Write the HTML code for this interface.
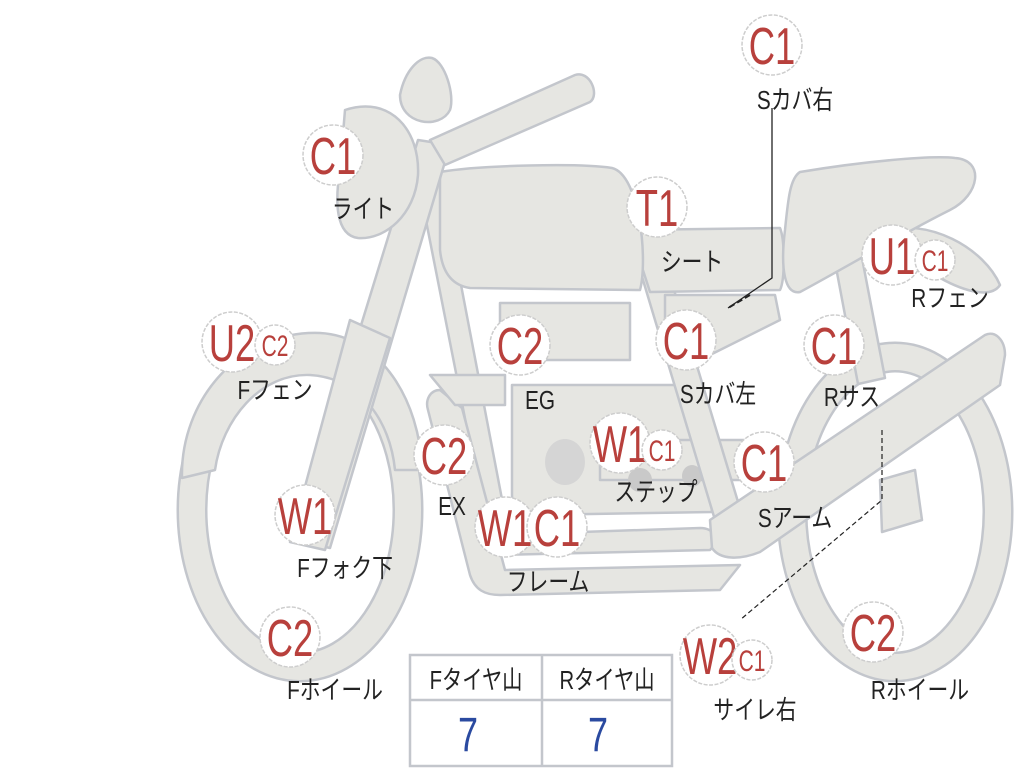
<!DOCTYPE html>
<html><head><meta charset="utf-8"><style>
html,body{margin:0;padding:0;background:#fff;width:1024px;height:768px;overflow:hidden}
svg{display:block}
.s{fill:#e6e6e2;stroke:#c3c6cc;stroke-width:2.5;stroke-linejoin:round}
.b{fill:#fff;stroke:#cdcdcd;stroke-width:1.5;stroke-dasharray:4 1.5}
.r{fill:#b8403c;font-family:"Liberation Sans",sans-serif}
.k{fill:#222;font-family:"Liberation Sans","Noto Sans CJK JP",sans-serif;font-size:26px}
</style></head><body>
<svg width="1024" height="768" viewBox="0 0 1024 768">
<ellipse cx="300" cy="510" rx="108" ry="157" fill="none" stroke="#c3c6cc" stroke-width="31"/>
<ellipse cx="300" cy="510" rx="108" ry="157" fill="none" stroke="#e6e6e2" stroke-width="26"/>
<ellipse cx="895" cy="512" rx="103" ry="155" fill="none" stroke="#c3c6cc" stroke-width="31"/>
<ellipse cx="895" cy="512" rx="103" ry="155" fill="none" stroke="#e6e6e2" stroke-width="26"/>
<path class="s" d="M182,478 C180,400 240,330 320,333 C380,336 420,400 422,470 L395,470 C390,420 360,378 310,375 C260,373 222,420 215,470 Z"/>
<path class="s" d="M835,262 L862,258 L885,378 L858,384 Z"/>
<path class="s" d="M875,232 C930,215 985,250 1000,285 C990,300 960,290 935,275 L880,250 Z"/>
<path class="s" d="M418,180 L440,175 L505,515 L485,520 Z"/>
<path class="s" d="M440,390 C430,390 425,400 428,410 L470,575 C475,590 485,595 500,595 L720,590 L740,565 L505,570 L462,408 Z"/>
<path class="s" d="M495,535 L700,528 C715,528 720,540 710,550 L500,555 Z"/>
<path class="s" d="M430,375 L505,375 L505,405 L455,405 Z"/>
<path class="s" d="M512,385 L700,385 L712,512 L530,515 C515,515 512,505 512,495 Z"/>
<rect class="s" x="500" y="303" width="130" height="57"/>
<ellipse cx="565" cy="462" rx="20" ry="23" fill="#d5d5d5"/>
<path class="s" d="M600,440 L760,440 L765,480 L600,480 Z"/>
<ellipse cx="640" cy="480" rx="12" ry="12" fill="#c9c9c9"/>
<ellipse cx="692" cy="476" rx="10" ry="11" fill="#c9c9c9"/>
<path class="s" d="M640,270 L668,270 L745,525 L718,530 Z"/>
<path class="s" d="M665,295 L775,295 L780,320 L700,360 L665,355 Z"/>
<path class="s" d="M630,230 L780,228 C785,240 785,280 780,290 L650,292 Z"/>
<path class="s" d="M710,520 L985,335 C995,330 1005,340 1005,355 L1000,385 L760,552 C740,560 720,560 712,548 Z"/>
<path class="s" d="M880,480 L915,470 L922,520 L882,532 Z"/>
<path class="s" d="M440,172 C480,165 580,163 612,168 C640,175 648,260 640,290 L470,288 C450,285 442,270 440,250 Z"/>
<path class="s" d="M800,172 C860,162 930,155 955,158 C985,160 980,195 950,210 C900,235 850,265 800,292 C785,295 780,270 785,230 C788,200 790,178 800,172 Z"/>
<path class="s" d="M418,140 L450,145 L330,548 L295,540 Z"/>
<path class="s" d="M350,320 L390,338 L325,550 L290,542 Z"/>
<path class="s" d="M345,110 C390,95 420,130 418,175 C415,215 385,240 358,238 C335,235 335,200 340,170 Z"/>
<path class="s" d="M430,140 L575,75 C590,70 600,95 590,102 L445,165 Z"/>
<path class="s" d="M400,95 C405,70 420,55 432,58 C445,62 455,95 450,110 C440,130 400,125 400,95 Z"/>
<path d="M772,108 L772,278 L728,308" fill="none" stroke="#222" stroke-width="1.3"/>
<path d="M750,295 L728,308" stroke="#222" stroke-width="2" stroke-dasharray="6 3"/>
<path d="M882,430 L882,500 L740,620" fill="none" stroke="#222" stroke-width="1.2" stroke-dasharray="5 3"/>
<rect x="410" y="655" width="262" height="111" fill="#fff" stroke="#c3c6cc" stroke-width="2.5"/>
<line x1="410" y1="700" x2="672" y2="700" stroke="#c3c6cc" stroke-width="2.5"/>
<line x1="542" y1="655" x2="542" y2="766" stroke="#c3c6cc" stroke-width="2.5"/>
<text class="k" transform="translate(476,689) scale(.78,1)" text-anchor="middle">Fタイヤ山</text>
<text class="k" transform="translate(607,689) scale(.78,1)" text-anchor="middle">Rタイヤ山</text>
<text transform="translate(468,751) scale(.75,1)" text-anchor="middle" font-family="Liberation Sans,sans-serif" font-size="48" fill="#2a4aa0">7</text>
<text transform="translate(598,751) scale(.75,1)" text-anchor="middle" font-family="Liberation Sans,sans-serif" font-size="48" fill="#2a4aa0">7</text>
<g font-size="52" text-anchor="middle">
<circle class="b" cx="772" cy="45" r="30"/><text class="r" transform="translate(772,64) scale(.7,1)">C1</text>
<circle class="b" cx="333" cy="155" r="30"/><text class="r" transform="translate(333,174) scale(.7,1)">C1</text>
<circle class="b" cx="657" cy="207" r="30"/><text class="r" transform="translate(657,226) scale(.7,1)">T1</text>
<circle class="b" cx="892" cy="255" r="30"/><text class="r" transform="translate(892,274) scale(.7,1)">U1</text>
<circle class="b" cx="232" cy="342" r="30"/><text class="r" transform="translate(232,361) scale(.7,1)">U2</text>
<circle class="b" cx="520" cy="345" r="30"/><text class="r" transform="translate(520,364) scale(.7,1)">C2</text>
<circle class="b" cx="686" cy="340" r="30"/><text class="r" transform="translate(686,359) scale(.7,1)">C1</text>
<circle class="b" cx="834" cy="345" r="30"/><text class="r" transform="translate(834,364) scale(.7,1)">C1</text>
<circle class="b" cx="444" cy="455" r="30"/><text class="r" transform="translate(444,474) scale(.7,1)">C2</text>
<circle class="b" cx="620" cy="443" r="30"/><text class="r" transform="translate(620,462) scale(.7,1)">W1</text>
<circle class="b" cx="764" cy="462" r="30"/><text class="r" transform="translate(764,481) scale(.7,1)">C1</text>
<circle class="b" cx="305" cy="515" r="30"/><text class="r" transform="translate(305,534) scale(.7,1)">W1</text>
<circle class="b" cx="505" cy="527" r="30"/><text class="r" transform="translate(505,546) scale(.7,1)">W1</text>
<circle class="b" cx="557" cy="527" r="30"/><text class="r" transform="translate(557,546) scale(.7,1)">C1</text>
<circle class="b" cx="290" cy="637" r="30"/><text class="r" transform="translate(290,656) scale(.7,1)">C2</text>
<circle class="b" cx="710" cy="655" r="30"/><text class="r" transform="translate(710,674) scale(.7,1)">W2</text>
<circle class="b" cx="873" cy="632" r="30"/><text class="r" transform="translate(873,651) scale(.7,1)">C2</text>
</g>
<g font-size="30" text-anchor="middle">
<circle class="b" cx="935" cy="260" r="20"/><text class="r" transform="translate(935,271) scale(.7,1)">C1</text>
<circle class="b" cx="275" cy="345" r="20"/><text class="r" transform="translate(275,356) scale(.7,1)">C2</text>
<circle class="b" cx="662" cy="450" r="20"/><text class="r" transform="translate(662,461) scale(.7,1)">C1</text>
<circle class="b" cx="752" cy="660" r="20"/><text class="r" transform="translate(752,671) scale(.7,1)">C1</text>
</g>
<g text-anchor="middle">
<text class="k" transform="translate(795,109) scale(.8,1)">Sカバ右</text>
<text class="k" transform="translate(363,218) scale(.8,1)">ライト</text>
<text class="k" transform="translate(692,271) scale(.8,1)">シート</text>
<text class="k" transform="translate(950,307) scale(.8,1)">Rフェン</text>
<text class="k" transform="translate(275,399) scale(.8,1)">Fフェン</text>
<text class="k" transform="translate(540,409) scale(.8,1)">EG</text>
<text class="k" transform="translate(718,403) scale(.8,1)">Sカバ左</text>
<text class="k" transform="translate(852,406) scale(.8,1)">Rサス</text>
<text class="k" transform="translate(452,515) scale(.8,1)">EX</text>
<text class="k" transform="translate(656,501) scale(.8,1)">ステップ</text>
<text class="k" transform="translate(795,527) scale(.8,1)">Sアーム</text>
<text class="k" transform="translate(345,577) scale(.8,1)">Fフォク下</text>
<text class="k" transform="translate(548,591) scale(.8,1)">フレーム</text>
<text class="k" transform="translate(335,699) scale(.8,1)">Fホイール</text>
<text class="k" transform="translate(755,719) scale(.8,1)">サイレ右</text>
<text class="k" transform="translate(920,699) scale(.8,1)">Rホイール</text>
</g>
</svg>
</body></html>
